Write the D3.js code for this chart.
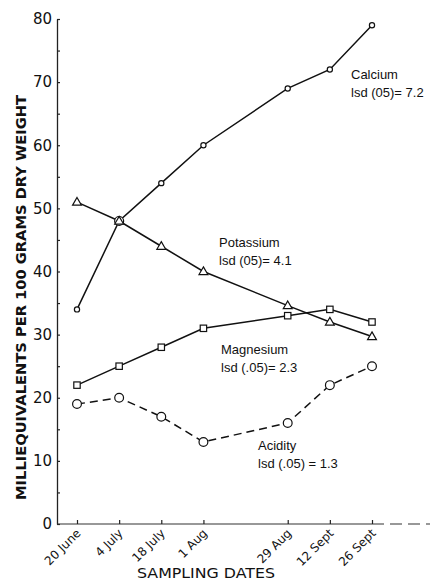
<!DOCTYPE html>
<html>
<head>
<meta charset="utf-8">
<script src="https://cdn.jsdelivr.net/npm/d3@7"></script>
<style>
  body { margin: 0; background: #fff; }
  svg { display: block; }
</style>
</head>
<body>
<svg id="chart" width="432" height="581"></svg>
<script>
// sampling dates (year is not given in the figure)
var dates = ["1975-06-20", "1975-07-04", "1975-07-18", "1975-08-01", "1975-08-29", "1975-09-12", "1975-09-26"]
var dateLabels = ["20 June", "4 July", "18 July", "1 Aug", "29 Aug", "12 Sept", "26 Sept"]

var calcium   = [34, 48, 54, 60, 69, 72, 79]
var potassium = [51, 48, 44, 40, 34.6, 32, 29.7]
var magnesium = [22, 25, 28, 31, 33, 34, 32]
var acidity   = [19, 20, 17, 13, 16, 22, 25]

var seriesNames = ["Calcium", "Potassium", "Magnesium", "Acidity"]
var lsdText = ["lsd (05)= 7.2", "lsd (05)= 4.1", "lsd (.05)= 2.3", "lsd (.05) = 1.3"]

var yTicks = [0, 10, 20, 30, 40, 50, 60, 70, 80]

var parse = d3.timeParse("%Y-%m-%d")
var xDates = dates.map(parse)

var svg = d3.select("#chart")
var font = "DejaVu Sans"

var x = d3.scaleTime()
  .domain([xDates[0], xDates[xDates.length - 1]])
  .range([77, 372])

var y = d3.scaleLinear()
  .domain([0, 80])
  .range([524, 19])

var axisX = 57

// y axis: labels on left, small inward ticks every 5
var yg = svg.append("g")
  .attr("transform", `translate(${axisX},0)`)
  .call(d3.axisLeft(y).tickValues(yTicks).tickSize(0).tickPadding(5))
yg.select(".domain").attr("stroke", "#222").attr("stroke-width", 1.3)
yg.selectAll("text")
  .attr("font-family", font)
  .attr("font-size", 15)
  .attr("fill", "#111")

svg.append("g")
  .attr("transform", `translate(${axisX},0)`)
  .call(d3.axisRight(y).tickValues(d3.range(0, 81, 5)).tickSize(3).tickFormat(""))
  .call(g => g.select(".domain").remove())
  .selectAll("line").attr("stroke", "#222").attr("stroke-width", 1.2)

// x axis baseline
svg.append("line")
  .attr("x1", axisX).attr("x2", x(xDates[6]))
  .attr("y1", y(0)).attr("y2", y(0))
  .attr("stroke", "#333").attr("stroke-width", 1.2)
svg.append("line")
  .attr("x1", x(xDates[6])).attr("x2", 430)
  .attr("y1", y(0)).attr("y2", y(0))
  .attr("stroke", "#333").attr("stroke-width", 1.2)
  .attr("stroke-dasharray", "12,6")

var xg = svg.append("g")
  .attr("transform", `translate(0,${y(0)})`)
  .call(d3.axisBottom(x).tickValues(xDates).tickSizeInner(-4).tickSizeOuter(0)
    .tickFormat((d, i) => dateLabels[i]))
xg.select(".domain").remove()
xg.selectAll("line").attr("stroke", "#222").attr("stroke-width", 1.2)
xg.selectAll("text")
  .attr("font-family", font)
  .attr("font-size", 12)
  .attr("fill", "#111")
  .attr("text-anchor", "end")
  .attr("dy", 0)
  .attr("y", 0)
  .attr("transform", "translate(4,10) rotate(-45)")

// axis titles
svg.append("text")
  .attr("transform", `translate(26,${(95 + 500) / 2}) rotate(-90)`)
  .attr("text-anchor", "middle")
  .attr("font-family", font)
  .attr("font-weight", "bold")
  .attr("font-size", 14)
  .attr("textLength", 405)
  .attr("lengthAdjust", "spacingAndGlyphs")
  .attr("fill", "#111")
  .text("MILLIEQUIVALENTS PER 100 GRAMS DRY WEIGHT")

svg.append("text")
  .attr("x", 206).attr("y", 578)
  .attr("text-anchor", "middle")
  .attr("font-family", font)
  .attr("font-size", 14)
  .attr("textLength", 138)
  .attr("lengthAdjust", "spacingAndGlyphs")
  .attr("fill", "#111")
  .text("SAMPLING DATES")

// lines
var line = d3.line()
  .x((d, i) => x(xDates[i]))
  .y(d => y(d))

function drawLine(vals, dash) {
  svg.append("path")
    .attr("d", line(vals))
    .attr("fill", "none")
    .attr("stroke", "#111")
    .attr("stroke-width", 1.5)
    .attr("stroke-dasharray", dash)
}
drawLine(calcium, null)
drawLine(potassium, null)
drawLine(magnesium, null)
drawLine(acidity, "8,5")

// markers
svg.selectAll(".ca")
  .data(calcium).join("circle")
  .attr("cx", (d, i) => x(xDates[i]))
  .attr("cy", d => y(d))
  .attr("r", (d, i) => i == 1 ? 4.5 : 2.6)
  .attr("fill", "#fff").attr("stroke", "#111").attr("stroke-width", 1.2)

svg.selectAll(".ac")
  .data(acidity).join("circle")
  .attr("cx", (d, i) => x(xDates[i]))
  .attr("cy", d => y(d))
  .attr("r", 4.4)
  .attr("fill", "#fff").attr("stroke", "#111").attr("stroke-width", 1.2)

var tri = d3.symbol().type(d3.symbolTriangle).size(34)
svg.selectAll(".k")
  .data(potassium).join("path")
  .attr("d", tri)
  .attr("transform", (d, i) => `translate(${x(xDates[i])},${y(d) + 0.5})`)
  .attr("fill", "#fff").attr("stroke", "#111").attr("stroke-width", 1.2)

svg.selectAll(".mg")
  .data(magnesium).join("rect")
  .attr("x", (d, i) => x(xDates[i]) - 3.2)
  .attr("y", d => y(d) - 3.2)
  .attr("width", 6.4).attr("height", 6.4)
  .attr("fill", "#fff").attr("stroke", "#111").attr("stroke-width", 1.2)

// annotations
var labelPos = [[351, 79], [219, 247], [221, 354], [258, 450]]
seriesNames.forEach(function(name, i) {
  var t = svg.append("text")
    .attr("font-family", "Liberation Sans")
    .attr("font-size", 13)
    .attr("fill", "#111")
  t.append("tspan").attr("x", labelPos[i][0]).attr("y", labelPos[i][1]).text(name)
  t.append("tspan").attr("x", labelPos[i][0]).attr("y", labelPos[i][1] + 18).text(lsdText[i])
})
</script>
</body>
</html>
